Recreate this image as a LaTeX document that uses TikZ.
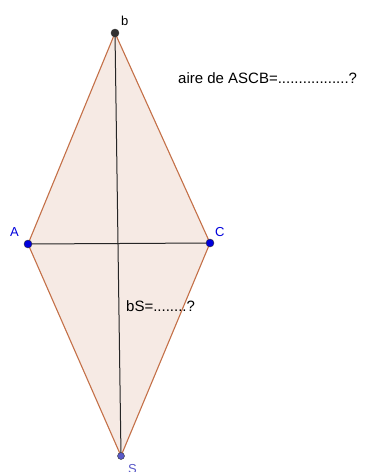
\documentclass[tikz,border=0pt]{standalone}
\usepackage{fontspec}
\setmainfont{Liberation Sans}
\definecolor{edge}{RGB}{196,112,72}
\definecolor{fillc}{RGB}{246,234,228}
\definecolor{ptblue}{RGB}{0,0,220}
\definecolor{ptS}{RGB}{90,90,200}
\definecolor{ptb}{RGB}{50,50,50}
\begin{document}
\begin{tikzpicture}[x=1pt,y=-1pt,
  pt/.style={circle,inner sep=0pt,minimum size=8pt,draw=black!80,line width=0.4pt},
  lbl/.style={font=\fontsize{13}{14}\selectfont,inner sep=0pt},
  txt/.style={font=\fontsize{15}{16}\selectfont,inner sep=0pt},
  edgeline/.style={draw=edge,line width=1.1pt},
  diag/.style={draw=black!85,line width=1pt}]
\useasboundingbox (0,0) rectangle (370,472);
\coordinate (b) at (115,33);
\coordinate (A) at (28,244);
\coordinate (C) at (210,243);
\coordinate (S) at (121,456);
\fill[fillc] (A) -- (b) -- (C) -- (S) -- cycle;
\draw[edgeline] (A) -- (b) -- (C) -- (S) -- cycle;
\draw[diag] (b) -- (S);
\draw[diag] (A) -- (C);
\node[pt,fill=ptb] (pb) at (b) {};
\node[pt,fill=ptblue] (pA) at (A) {};
\node[pt,fill=ptblue] (pC) at (C) {};
\node[pt,fill=ptS,minimum size=7pt] (pS) at (S) {};
\node[lbl,anchor=base west] (lb) at (121,25) {b};
\node[lbl,anchor=base west,text=ptblue] (lA) at (10,236) {A};
\node[lbl,anchor=base west,text=ptblue] (lC) at (215,236) {C};
\node[lbl,anchor=north west,text=ptS] (lS) at (128,464) {S};
\node[txt,anchor=base west] (t1) at (178,83) {aire de ASCB=.................?};
\node[txt,anchor=base west] (t2) at (126,311) {bS=........?};
\end{tikzpicture}
\end{document}
